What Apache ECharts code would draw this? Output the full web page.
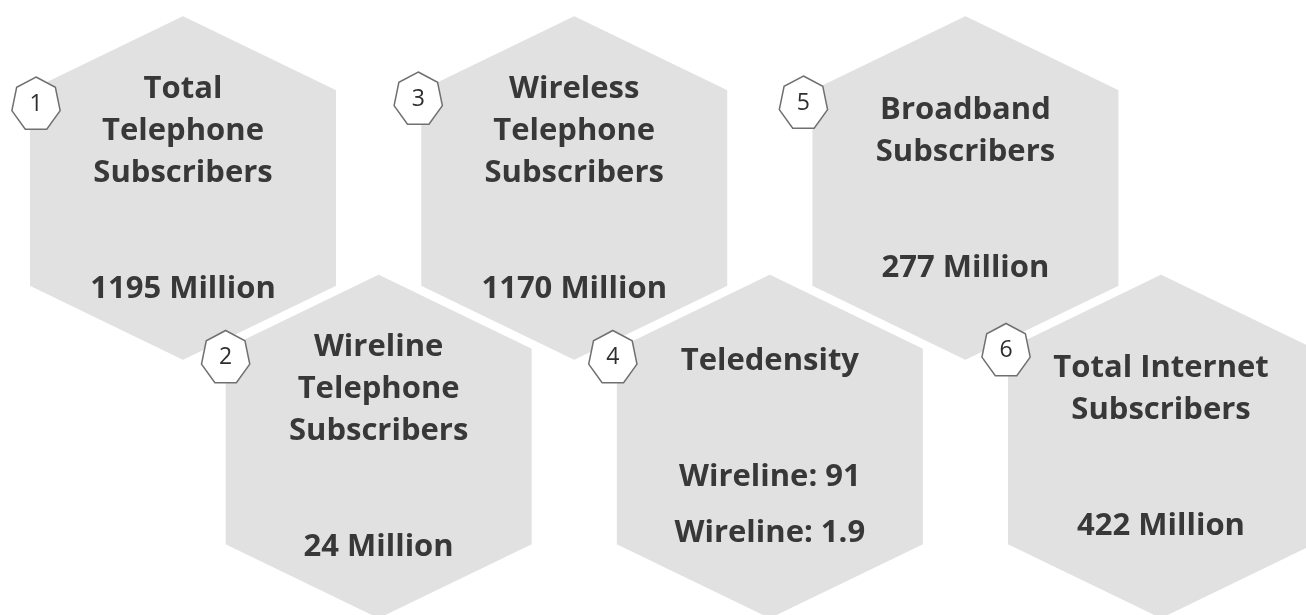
<!DOCTYPE html>
<html>
<head>
<meta charset="utf-8">
<script src="https://cdn.jsdelivr.net/npm/echarts@6/dist/echarts.min.js"></script>
<style>
html,body{margin:0;padding:0;background:#fff;}
#chart{width:1306px;height:615px;}
</style>
</head>
<body>
<div id="chart"></div>
<script>
// ---- data ----
const badgeNumbers = [1, 2, 3, 4, 5, 6];
const titleLines = [
  ['Total', 'Telephone', 'Subscribers'],
  ['Wireline', 'Telephone', 'Subscribers'],
  ['Wireless', 'Telephone', 'Subscribers'],
  ['Teledensity'],
  ['Broadband', 'Subscribers'],
  ['Total Internet', 'Subscribers']
];
const valueLines = [
  ['1195 Million'],
  ['24 Million'],
  ['1170 Million'],
  ['Wireline: 91', 'Wireline: 1.9'],
  ['277 Million'],
  ['422 Million']
];
const columns = [0, 1, 2, 3, 4, 5];
const rows = [0, 1, 0, 1, 0, 1];

// ---- layout (badge offsets from hexagon centre, px) ----
const badgeLayout = [[-147, -85], [-153, -90], [-156, -90], [-157, -90], [-162, -86], [-155, -97]];

// ---- build series data: upper row first so lower row overlaps it ----
const seriesData = [];
[0, 1].forEach(function (r) {
  badgeNumbers.forEach(function (n, i) {
    if (rows[i] === r) seriesData.push([columns[i], rows[i], i]);
  });
});

const FONT = '"Open Sans", "Liberation Sans", sans-serif';
const HW = 155, HH = 174, HS = 99;

function heptagon(cx, cy, R) {
  const pts = [];
  for (let k = 0; k < 7; k++) {
    const a = -Math.PI / 2 + k * 2 * Math.PI / 7;
    pts.push([cx + R * 0.9 * Math.cos(a), cy + R * Math.sin(a)]);
  }
  return pts;
}

function renderItem(params, api) {
  const i = api.value(2);
  const c = api.coord([api.value(0), api.value(1)]);
  const cx = c[0], cy = c[1];
  const children = [];
  children.push({
    type: 'polygon',
    shape: { points: [
      [cx, cy - HH], [cx + HW, cy - HS], [cx + HW, cy + HS],
      [cx, cy + HH], [cx - HW, cy + HS], [cx - HW, cy - HS]
    ] },
    style: { fill: '#e1e1e1', stroke: '#ffffff', lineWidth: 4 },
    z2: 1
  });
  const t = titleLines[i], v = valueLines[i];
  const total = (t.length - 1) * 42 + 116 + (v.length - 1) * 56;
  let y = cy - total / 2 + 1;
  t.forEach(function (s, k) {
    children.push({
      type: 'text',
      style: { text: s, x: cx, y: y + k * 42, align: 'center', verticalAlign: 'middle',
        font: 'bold 31px ' + FONT, fill: '#383838' },
      z2: 2
    });
  });
  y = y + (t.length - 1) * 42 + 116;
  v.forEach(function (s, k) {
    children.push({
      type: 'text',
      style: { text: s, x: cx, y: y + k * 56, align: 'center', verticalAlign: 'middle',
        font: 'bold 31px ' + FONT, fill: '#383838' },
      z2: 2
    });
  });
  const bx = cx + badgeLayout[i][0], by = cy + badgeLayout[i][1];
  children.push({
    type: 'polygon',
    shape: { points: heptagon(bx, by + 1.5, 27.5) },
    style: { fill: '#ffffff', stroke: '#707070', lineWidth: 1.5 },
    z2: 3
  });
  children.push({
    type: 'text',
    style: { text: String(badgeNumbers[i]), x: bx, y: by + 1, align: 'center', verticalAlign: 'middle',
      font: '23px ' + FONT, fill: '#2e2e2e' },
    z2: 4
  });
  return { type: 'group', children: children };
}

const chart = echarts.init(document.getElementById('chart'), null, { renderer: 'canvas' });
chart.setOption({
  animation: false,
  backgroundColor: '#ffffff',
  grid: { left: 0, right: 0, top: 0, bottom: 0 },
  xAxis: { type: 'value', min: -0.9356, max: 5.741, show: false },
  yAxis: { type: 'value', min: -0.7273, max: 1.652, inverse: true, show: false },
  series: [{
    type: 'custom',
    renderItem: renderItem,
    clip: false,
    data: seriesData
  }]
});
</script>
</body>
</html>
